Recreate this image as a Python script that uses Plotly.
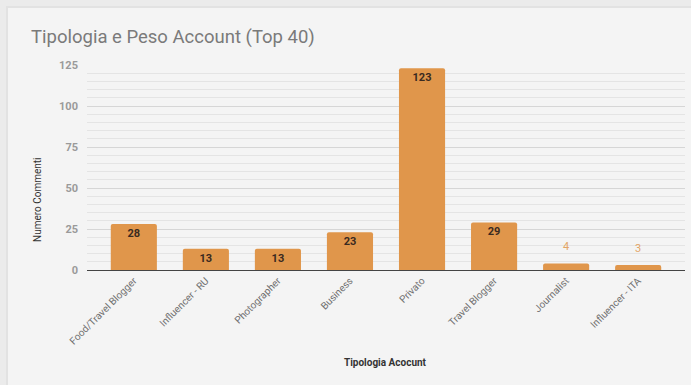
import plotly.graph_objects as go

categories = ["Food/Travel Blogger", "Influencer - RU", "Photographer", "Business",
              "Privato", "Travel Blogger", "Journalist", "Influencer - ITA"]
commenti = [28, 13, 13, 23, 123, 29, 4, 3]
y_ticks = [0, 25, 50, 75, 100, 125]

BAR = "#e0964b"
W, H = 691, 385
ML, MR, MT, MB = 87, 6, 65, 115
PW, PH = W - ML - MR, H - MT - MB


def px_x(p):
    return (p - ML) / PW


def px_y(p):
    return (H - MB - p) / PH


inside = [v >= 10 for v in commenti]

fig = go.Figure(go.Bar(
    x=categories,
    y=commenti,
    marker=dict(color=BAR, line=dict(width=0), cornerradius=2),
    text=[str(v) if ins else "" for v, ins in zip(commenti, inside)],
    textposition="inside",
    insidetextanchor="end",
    textfont=dict(family="Roboto", size=11, color="#3a2a20", weight="bold"),
    textangle=0,
    cliponaxis=False,
    hoverinfo="x+y",
))

annotations = []
# small bars: value printed above the bar
for c, v, ins in zip(categories, commenti, inside):
    if not ins:
        annotations.append(dict(x=c, y=v, xref="x", yref="y", text=str(v),
                                showarrow=False, yanchor="bottom", yshift=8,
                                font=dict(family="Roboto", size=11, color="#e3a566")))

annotations += [
    dict(x=px_x(29), y=px_y(37), xref="paper", yref="paper", xanchor="left", yanchor="middle",
         text="Tipologia e Peso Account (Top 40)", showarrow=False,
         font=dict(family="Roboto", size=18.5, color="#7a7a7a")),
    dict(x=px_x(38), y=px_y(200), xref="paper", yref="paper", xanchor="center", yanchor="middle",
         text="Numero Commenti", textangle=-90, showarrow=False,
         font=dict(family="Roboto", size=10, color="#333333")),
    dict(x=px_x(385), y=px_y(362), xref="paper", yref="paper", xanchor="center", yanchor="middle",
         text="<b>Tipologia Acocunt</b>", showarrow=False,
         font=dict(family="Roboto", size=10, color="#333333")),
]

shapes = [
    # card shadow and card
    dict(type="rect", xref="paper", yref="paper", layer="below",
         x0=px_x(6), x1=px_x(720), y0=px_y(420), y1=px_y(6),
         fillcolor="#e2e2e2", line=dict(width=0)),
    dict(type="rect", xref="paper", yref="paper", layer="below",
         x0=px_x(8), x1=px_x(720), y0=px_y(420), y1=px_y(8),
         fillcolor="#f4f4f4", line=dict(width=0)),
]

fig.update_layout(
    width=W, height=H,
    margin=dict(l=ML, r=MR, t=MT, b=MB),
    paper_bgcolor="#ebebeb",
    plot_bgcolor="rgba(0,0,0,0)",
    showlegend=False,
    bargap=0.36,
    annotations=annotations,
    shapes=shapes,
    font=dict(family="Roboto"),
    xaxis=dict(
        range=[-0.65, 7.65],
        tickangle=-45,
        tickfont=dict(family="Roboto", size=10, color="#6f6f6f"),
        showline=True, linecolor="#444444", linewidth=1,
        showgrid=False, ticks="", ticklen=0,
    ),
    yaxis=dict(
        range=[0, 125],
        tickvals=y_ticks,
        tickfont=dict(family="Roboto", size=11, color="#9a9a9a", weight="bold"),
        showgrid=True, gridcolor="#d6d6d6", gridwidth=1,
        minor=dict(dtick=5, showgrid=True, gridcolor="#e4e4e4", gridwidth=1),
        zeroline=False, showline=False,
        ticks="", ticklabelstandoff=8,
    ),
)

fig.write_html("out.html")
